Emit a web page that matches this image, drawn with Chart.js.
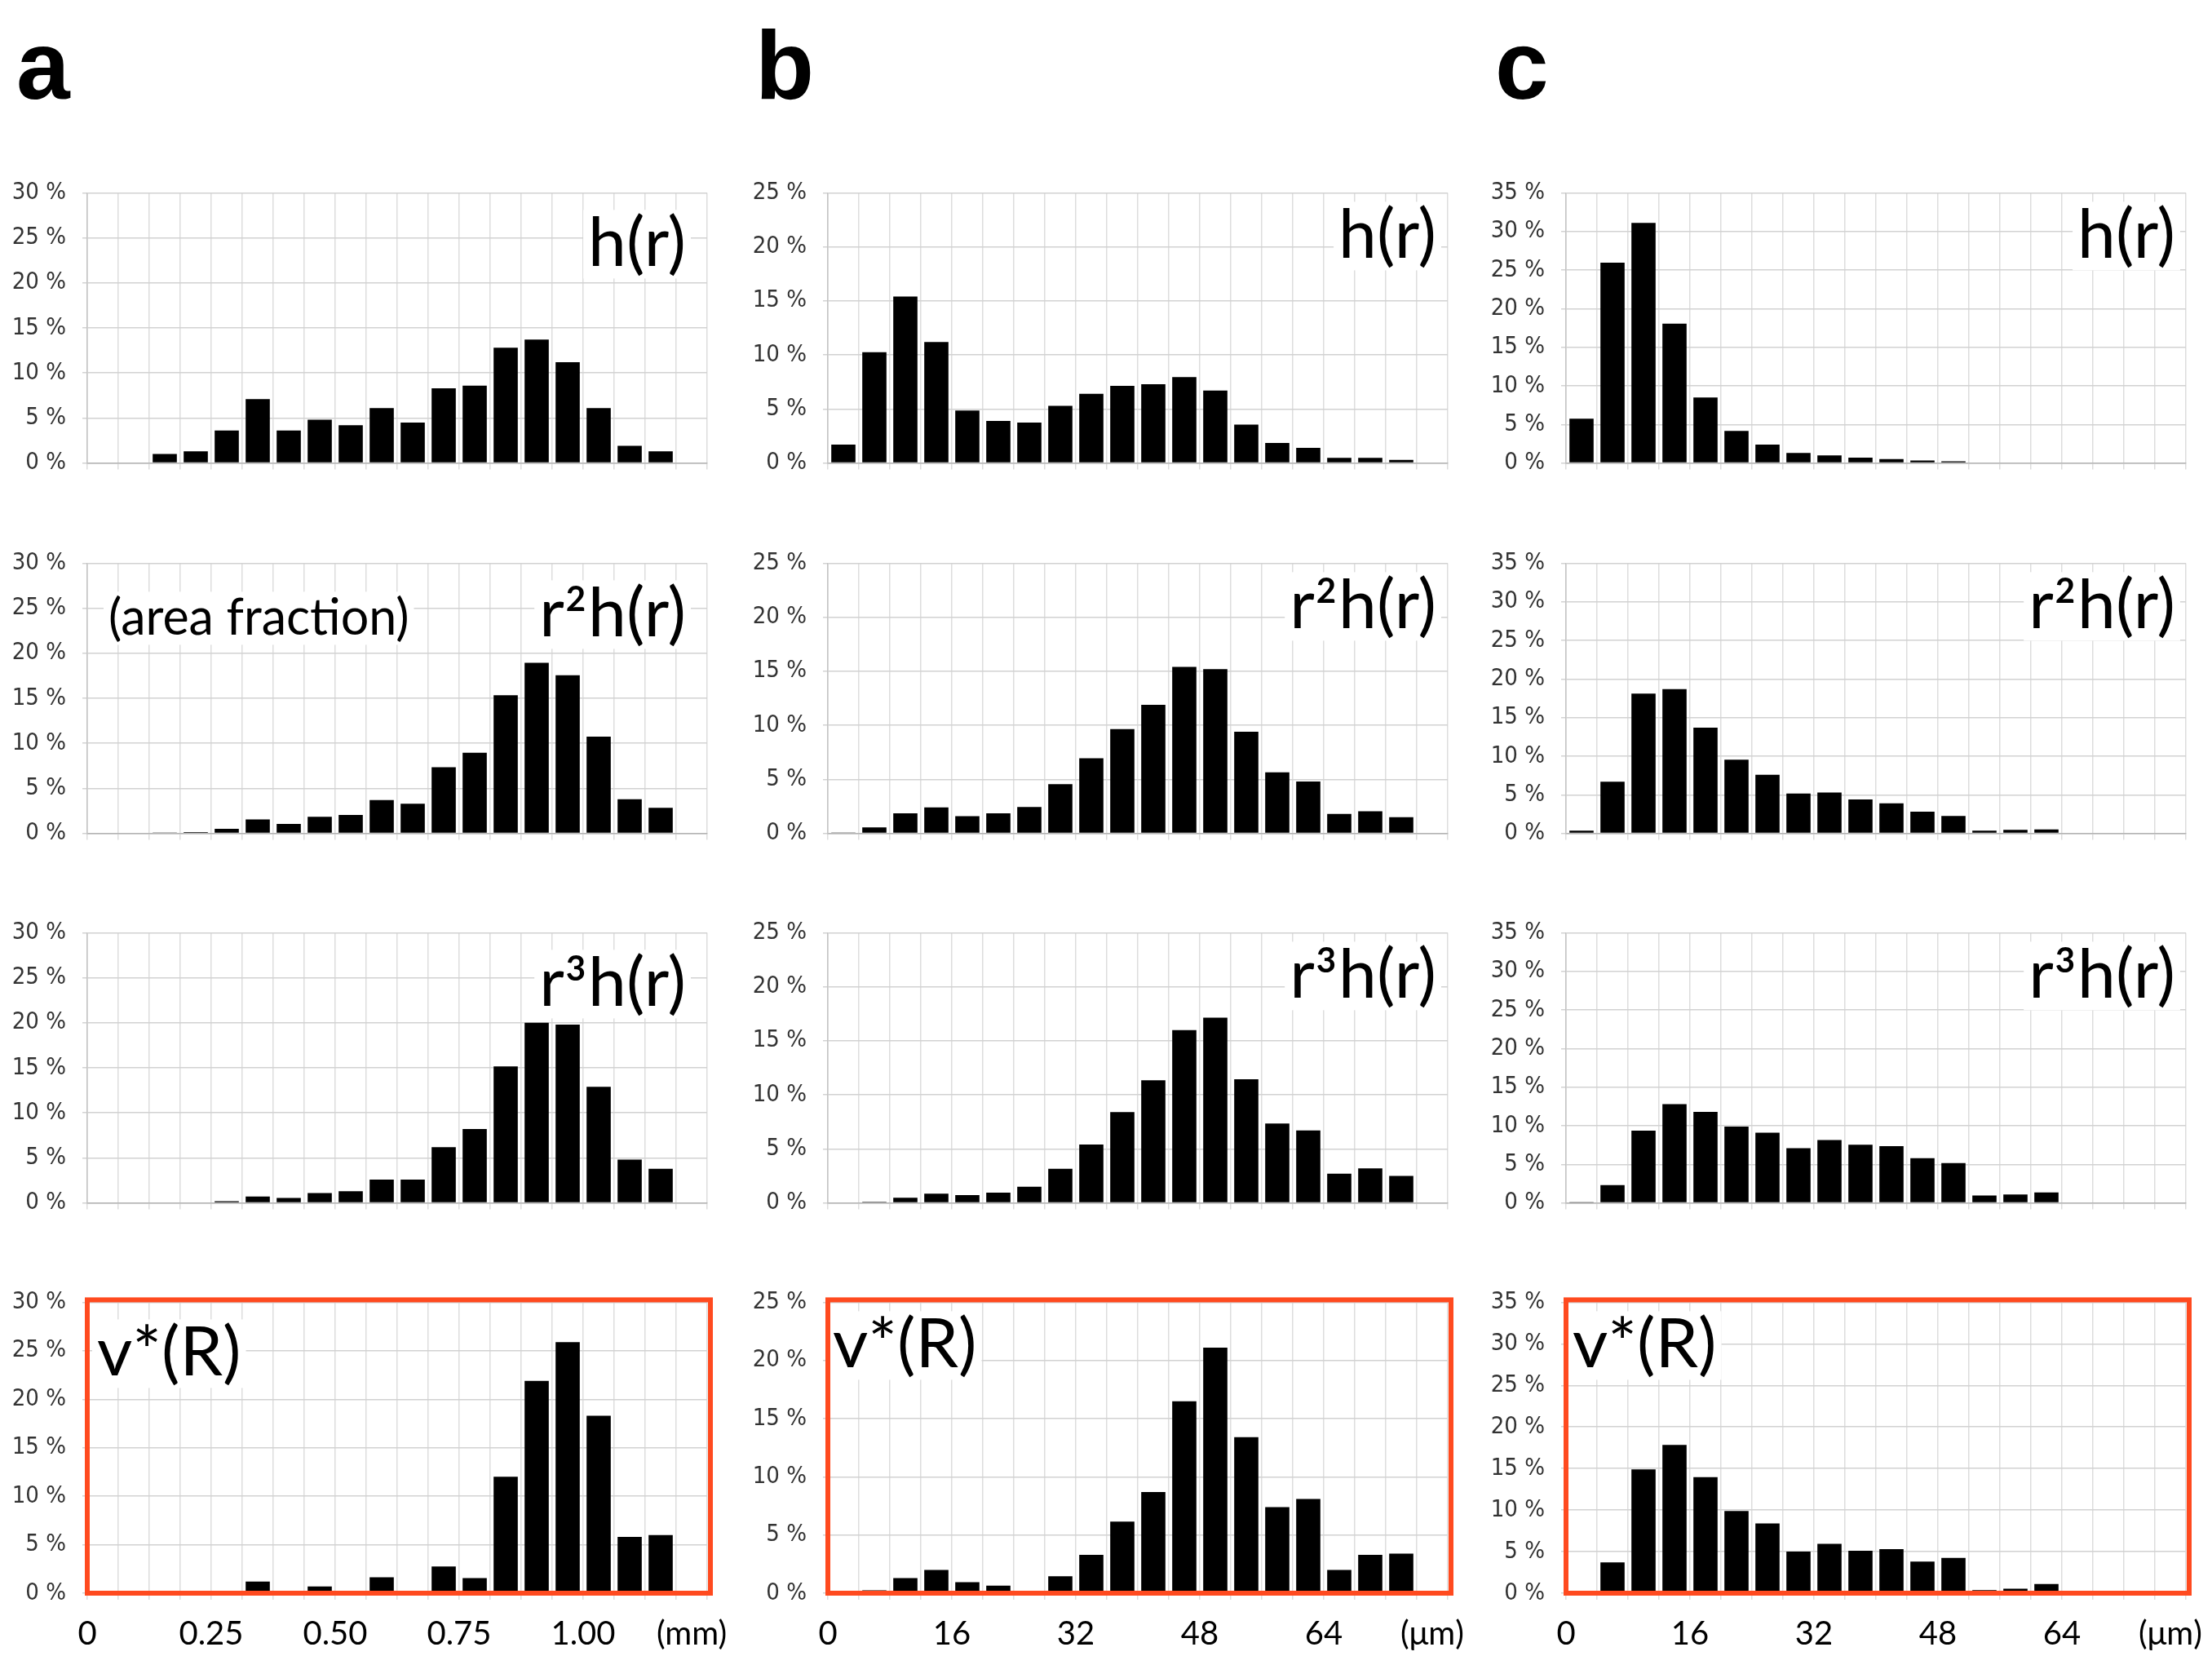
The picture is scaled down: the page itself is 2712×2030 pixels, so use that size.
<!DOCTYPE html>
<html>
<head>
<meta charset="utf-8">
<title>Size distributions h(r), r²h(r), r³h(r), v*(R)</title>
<script src="https://cdn.jsdelivr.net/npm/chart.js@4.4.1/dist/chart.umd.min.js"></script>
<style>
  html, body { margin: 0; padding: 0; background: #fff; }
  #fig { position: relative; width: 2712px; height: 2030px; background: #fff; overflow: hidden; }
  .panel { position: absolute; }
  .letter { position: absolute; font: bold 118px "Liberation Sans", Arial, sans-serif; line-height: 118px; color: #000; }
</style>
</head>
<body>
<div id="fig">
  <div class="letter" style="left:20px;top:21px">a</div>
  <div class="letter" style="left:926px;top:21px">b</div>
  <div class="letter" style="left:1833px;top:21px">c</div>
</div>
<script>
// bin centres: column a in mm, columns b and c in µm
const binsMm = [0.03125, 0.09375, 0.15625, 0.21875, 0.28125, 0.34375, 0.40625, 0.46875, 0.53125, 0.59375,
                0.65625, 0.71875, 0.78125, 0.84375, 0.90625, 0.96875, 1.03125, 1.09375, 1.15625, 1.21875];
const binsUm = [2, 6, 10, 14, 18, 22, 26, 30, 34, 38, 42, 46, 50, 54, 58, 62, 66, 70, 74, 78];

const tickValsMm = [0, 0.25, 0.5, 0.75, 1.0];
const tickTextMm = ['0', '0.25', '0.50', '0.75', '1.00'];
const tickValsUm = [0, 16, 32, 48, 64];
const tickTextUm = ['0', '16', '32', '48', '64'];

const rowLabels = ['h(r)', 'r²h(r)', 'r³h(r)', 'v*(R)'];
const yMaxes = [30, 25, 35];

// column a (percent per bin)
const aH   = [0, 0, 1.0, 1.3, 3.6, 7.1, 3.6, 4.8, 4.2, 6.1, 4.5, 8.3, 8.6, 12.8, 13.7, 11.2, 6.1, 1.9, 1.3, 0];
const aR2H = [0, 0, 0.1, 0.15, 0.5, 1.55, 1.05, 1.85, 2.05, 3.7, 3.3, 7.35, 8.95, 15.35, 18.95, 17.55, 10.75, 3.8, 2.85, 0];
const aR3H = [0, 0, 0, 0.08, 0.2, 0.7, 0.55, 1.1, 1.3, 2.6, 2.6, 6.2, 8.2, 15.15, 20.0, 19.8, 12.9, 4.8, 3.8, 0];
const aV   = [0, 0, 0, 0, 0, 1.2, 0, 0.7, 0, 1.65, 0, 2.75, 1.55, 12.0, 21.9, 25.9, 18.3, 5.8, 6.0, 0];

// column b
const bH   = [1.7, 10.25, 15.4, 11.2, 4.85, 3.9, 3.75, 5.3, 6.4, 7.15, 7.3, 7.95, 6.7, 3.55, 1.85, 1.4, 0.47, 0.47, 0.3, 0];
const bR2H = [0.05, 0.55, 1.85, 2.4, 1.6, 1.85, 2.45, 4.55, 6.95, 9.65, 11.9, 15.4, 15.2, 9.4, 5.65, 4.8, 1.8, 2.05, 1.5, 0];
const bR3H = [0, 0.1, 0.47, 0.85, 0.72, 0.95, 1.5, 3.15, 5.4, 8.4, 11.35, 16.0, 17.15, 11.45, 7.35, 6.7, 2.7, 3.2, 2.5, 0];
const bV   = [0, 0.25, 1.3, 2.0, 0.95, 0.65, 0, 1.45, 3.3, 6.15, 8.7, 16.5, 21.1, 13.4, 7.4, 8.1, 2.0, 3.3, 3.4, 0];

// column c
const cH   = [5.75, 25.95, 31.1, 18.05, 8.5, 4.15, 2.4, 1.3, 1.0, 0.7, 0.5, 0.33, 0.22, 0, 0, 0, 0, 0, 0, 0];
const cR2H = [0.35, 6.7, 18.1, 18.7, 13.7, 9.55, 7.6, 5.15, 5.3, 4.4, 3.9, 2.8, 2.25, 0.35, 0.45, 0.5, 0, 0, 0, 0];
const cR3H = [0.05, 2.3, 9.35, 12.8, 11.8, 9.9, 9.1, 7.1, 8.15, 7.55, 7.35, 5.8, 5.15, 0.95, 1.1, 1.35, 0, 0, 0, 0];
const cV   = [0, 3.7, 14.9, 17.85, 13.95, 9.9, 8.4, 5.0, 5.95, 5.1, 5.3, 3.8, 4.25, 0.38, 0.55, 1.1, 0, 0, 0, 0];

const columns = [
  { bins: binsMm, binWidth: 0.0625, tickVals: tickValsMm, tickText: tickTextMm, unit: '(mm)', series: [aH, aR2H, aR3H, aV] },
  { bins: binsUm, binWidth: 4, tickVals: tickValsUm, tickText: tickTextUm, unit: '(μm)', series: [bH, bR2H, bR3H, bV] },
  { bins: binsUm, binWidth: 4, tickVals: tickValsUm, tickText: tickTextUm, unit: '(μm)', series: [cH, cR2H, cR3H, cV] }
];

// layout (pixels)
const PLOT_LEFT = [107, 1015, 1920];
const PLOT_TOP = [219, 673, 1126, 1579];
const PLOT_W = 760, PLOT_H = 374, Y_AXIS_W = 100, PAD_TOP = 20, PAD_RIGHT = 34;
const LABEL_BASE = [90, 80, 80];
const LABEL_RIGHT = [26, 14, 13];
const LABEL_LEFT = [12, 6, 8];
const LABEL_SIZE = 84;
const LABEL_FONT = 'Lato, "Open Sans", sans-serif';
const TICK_FONT = '"Liberation Sans Narrow", "DejaVu Sans Condensed", "Noto Sans", sans-serif';

function splitSup(text) {
  const sup = { '²': '2', '³': '3' };
  const parts = [];
  for (const ch of text) {
    const isSup = ch in sup;
    const last = parts[parts.length - 1];
    if (last && last.sup === isSup) last.t += isSup ? sup[ch] : ch;
    else parts.push({ t: isSup ? sup[ch] : ch, sup: isSup });
  }
  return parts;
}

function drawRich(ctx, item, area) {
  const size = item.size;
  const parts = splitSup(item.text);
  const mainFont = `400 ${size}px ${LABEL_FONT}`;
  const supFont = `700 ${Math.round(size * 0.5)}px ${LABEL_FONT}`;
  ctx.save();
  let width = 0;
  parts.forEach(p => {
    ctx.font = p.sup ? supFont : mainFont;
    p.w = ctx.measureText(p.t).width + (p.sup ? 5 : 0);
    width += p.w;
  });
  ctx.font = mainFont;
  const m = ctx.measureText('(');
  const base = area.top + item.base;
  const x0 = item.align === 'right' ? area.right - item.inset - width : area.left + item.inset;
  ctx.fillStyle = '#fff';
  ctx.fillRect(x0 - 6, base - m.actualBoundingBoxAscent - 4, width + 12,
               m.actualBoundingBoxAscent + m.actualBoundingBoxDescent + 6);
  ctx.fillStyle = '#000';
  ctx.textAlign = 'left';
  ctx.textBaseline = 'alphabetic';
  let x = x0;
  parts.forEach(p => {
    ctx.font = p.sup ? supFont : mainFont;
    ctx.fillText(p.t, p.sup ? x + 2 : x, p.sup ? base - size * 0.37 : base);
    x += p.w;
  });
  ctx.restore();
}

const cornerLabel = {
  id: 'cornerLabel',
  afterDatasetsDraw(chart, args, opts) {
    (opts.items || []).forEach(item => drawRich(chart.ctx, item, chart.chartArea));
  }
};

const redFrame = {
  id: 'redFrame',
  afterDraw(chart, args, opts) {
    if (!opts.show) return;
    const { ctx, chartArea: a } = chart;
    ctx.save();
    ctx.strokeStyle = '#ff4a1f';
    ctx.lineWidth = 6;
    ctx.strokeRect(a.left, a.top - 3, a.width + 4, a.height + 3);
    ctx.restore();
  }
};

// unit sits under the last bin, on the tick label line
const unitLabel = {
  id: 'unitLabel',
  afterDraw(chart, args, opts) {
    if (!opts.text) return;
    const scale = chart.scales.x;
    const items = scale.getLabelItems();
    if (!items.length) return;
    const it = items[0];
    const { ctx } = chart;
    ctx.save();
    ctx.font = it.font.string;
    ctx.fillStyle = '#000';
    ctx.textAlign = 'center';
    ctx.textBaseline = it.options.textBaseline;
    ctx.fillText(opts.text, scale.getPixelForValue(opts.pos), it.options.translation[1] + it.textOffset);
    ctx.restore();
  }
};

const fig = document.getElementById('fig');

function makePanel(col, row) {
  const c = columns[col];
  const isBottom = row === 3;
  const xAxisH = isBottom ? 76 : 12;
  const holder = document.createElement('div');
  holder.className = 'panel';
  holder.style.left = (PLOT_LEFT[col] - Y_AXIS_W) + 'px';
  holder.style.top = (PLOT_TOP[row] - PAD_TOP) + 'px';
  holder.style.width = (Y_AXIS_W + PLOT_W + PAD_RIGHT) + 'px';
  holder.style.height = (PAD_TOP + PLOT_H + xAxisH) + 'px';
  const canvas = document.createElement('canvas');
  holder.appendChild(canvas);
  fig.appendChild(holder);

  const values = c.series[row];
  const xMax = c.binWidth * c.bins.length;

  const labels = [];
  if (isBottom) labels.push({ text: rowLabels[row], align: 'left', base: LABEL_BASE[col], inset: LABEL_LEFT[col], size: LABEL_SIZE });
  else labels.push({ text: rowLabels[row], align: 'right', base: LABEL_BASE[col], inset: LABEL_RIGHT[col], size: LABEL_SIZE });
  if (col === 0 && row === 1) labels.push({ text: '(area fraction)', align: 'left', base: 88, inset: 26, size: 61 });

  new Chart(canvas, {
    type: 'bar',
    data: {
      datasets: [{
        data: c.bins.map((x, i) => ({ x: x, y: values[i] })),
        backgroundColor: '#000',
        borderWidth: 0,
        barPercentage: 0.78,
        categoryPercentage: 1
      }]
    },
    options: {
      responsive: true,
      maintainAspectRatio: false,
      animation: false,
      devicePixelRatio: 1,
      layout: { padding: { top: PAD_TOP, right: PAD_RIGHT, left: 0, bottom: 0 } },
      plugins: {
        legend: { display: false },
        tooltip: { enabled: false },
        cornerLabel: { items: labels },
        redFrame: { show: isBottom },
        unitLabel: isBottom ? { text: c.unit, pos: xMax - c.binWidth / 2 } : {}
      },
      scales: {
        x: {
          type: 'linear',
          min: 0,
          max: xMax,
          offset: false,
          afterBuildTicks: s => {
            s.ticks = c.bins.map(b => ({ value: b - c.binWidth / 2 })).concat([{ value: xMax }]);
          },
          afterFit: s => { s.height = xAxisH; },
          grid: { color: '#dddddd', lineWidth: 1.5, tickLength: 8, drawTicks: true, offset: false },
          border: { display: true, color: '#b4b4b4', width: 1.5 },
          ticks: {
            display: isBottom,
            autoSkip: false,
            maxRotation: 0,
            padding: 18,
            color: '#000',
            font: { family: LABEL_FONT, size: 40 },
            callback: v => {
              const k = c.tickVals.findIndex(t => Math.abs(t - v) < 1e-9);
              return k >= 0 ? c.tickText[k] : '';
            }
          }
        },
        y: {
          min: 0,
          max: yMaxes[col],
          afterFit: s => { s.width = Y_AXIS_W; },
          grid: { color: '#d2d2d2', lineWidth: 1.5, tickLength: 6 },
          border: { display: true, color: '#c4c4c4', width: 1.5 },
          ticks: {
            stepSize: 5,
            padding: 20,
            color: '#333',
            font: { family: TICK_FONT, size: 29 },
            callback: v => v + ' %'
          }
        }
      }
    },
    plugins: [cornerLabel, redFrame, unitLabel]
  });
}

for (let col = 0; col < 3; col++) {
  for (let row = 0; row < 4; row++) makePanel(col, row);
}
</script>
</body>
</html>
